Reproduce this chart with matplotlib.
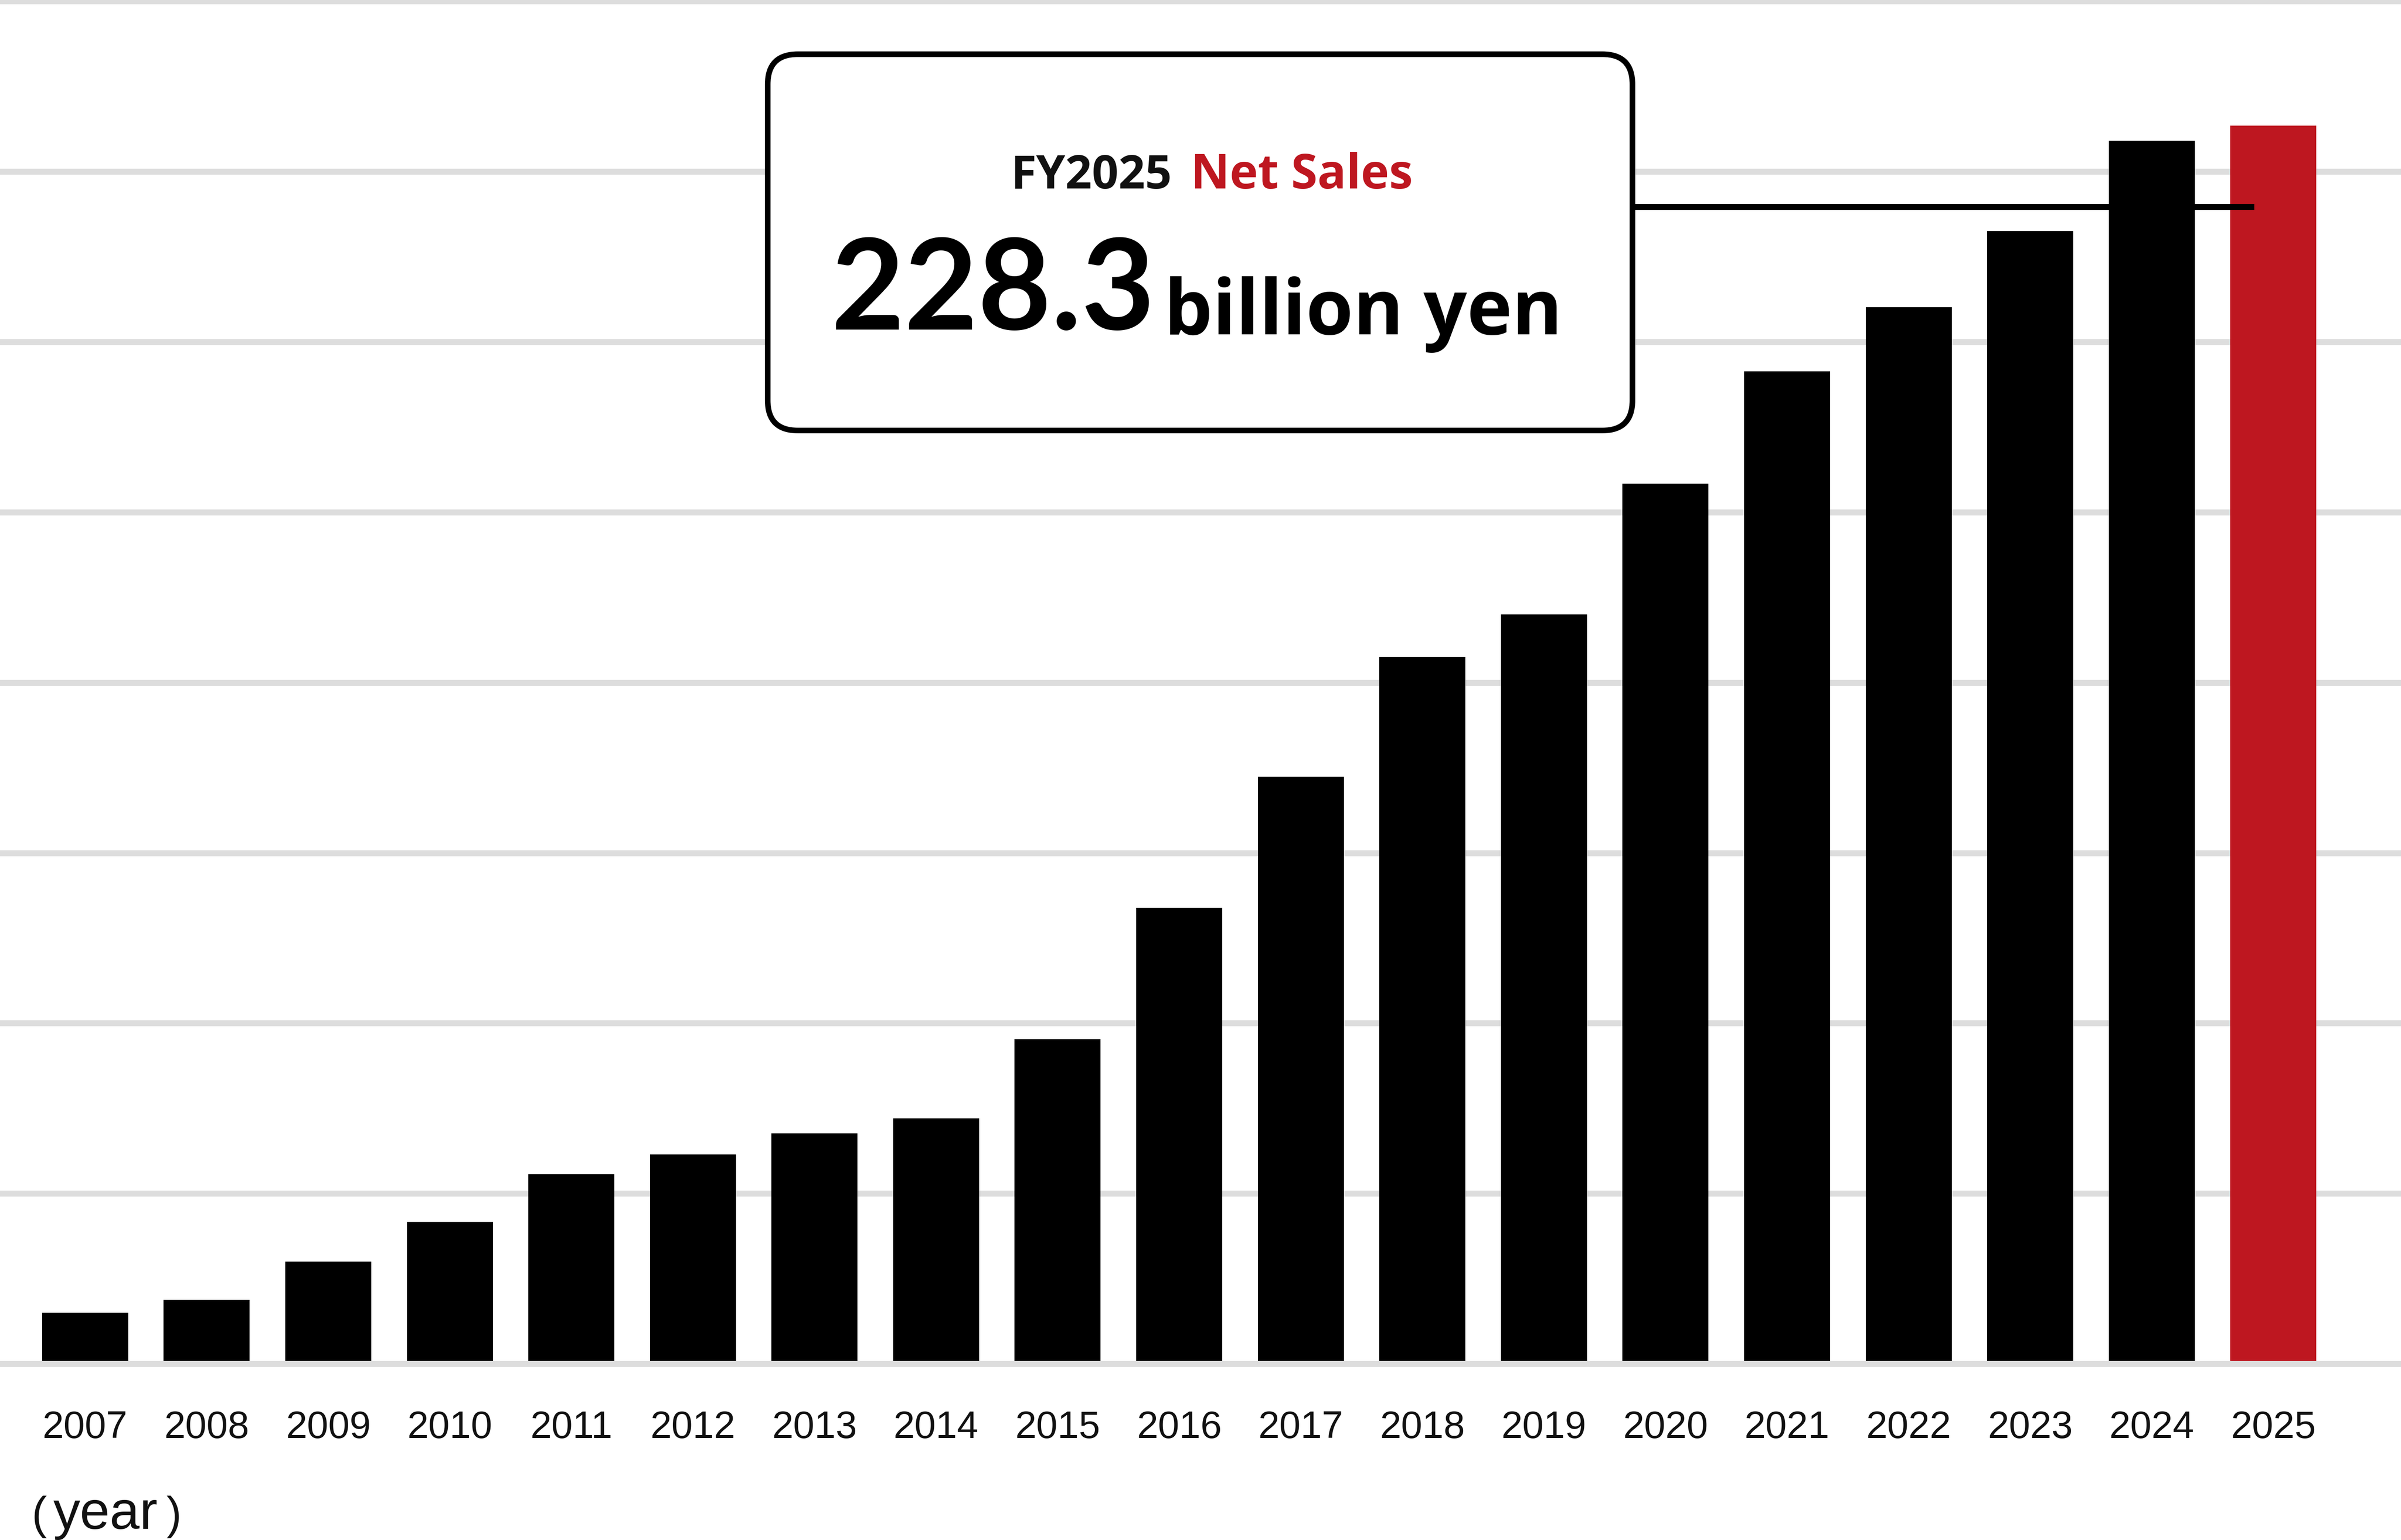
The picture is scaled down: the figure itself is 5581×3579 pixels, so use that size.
import numpy as np
import matplotlib
matplotlib.use("Agg")
from matplotlib import pyplot as plt
from matplotlib.patches import FancyBboxPatch

years = ["2007", "2008", "2009", "2010", "2011", "2012", "2013", "2014", "2015", "2016",
         "2017", "2018", "2019", "2020", "2021", "2022", "2023", "2024", "2025"]
net_sales = [9.4, 11.8, 18.9, 26.2, 35.0, 38.6, 42.5, 45.3, 59.9, 84.1,
             108.3, 130.3, 138.2, 162.3, 183.0, 194.8, 208.8, 225.5, 228.3]
highlight_label = "FY2025"
highlight_value = "228.3"

BLACK = "#000000"
RED = "#be1720"
GRID = "#dddddd"

W, H = 5581, 3580
fig = plt.figure(figsize=(W / 100, H / 100), dpi=100)
fig.patch.set_facecolor("white")

# main bar axes: baseline sits at 3171 px from top
base_px = 3171
ax = fig.add_axes([0, (H - base_px) / H, 1, base_px / H])
ax.set_ylim(0, 251.5)
ax.set_xlim(-0.70, len(years) - 1 + 1.05)

x = np.arange(len(years))
colors = [BLACK] * (len(years) - 1) + [RED]
ax.bar(x, net_sales, width=0.708, color=colors, zorder=2)

grid_top = 251.15
for i, g in enumerate(np.linspace(0, grid_top, 9)):
    ax.axhline(g, color=GRID, lw=10, zorder=3 if i == 0 else 0, clip_on=False)

ax.set_xticks(x)
ax.set_xticklabels(years, fontsize=64, family="Liberation Sans", color="#111111")
ax.tick_params(axis="x", length=0, pad=76)
ax.set_yticks([])
for s in ax.spines.values():
    s.set_visible(False)

# overlay in pixel units for the callout
ov = fig.add_axes([0, 0, 1, 1])
ov.set_xlim(0, W)
ov.set_ylim(H, 0)
ov.axis("off")
ov.patch.set_alpha(0)

box = FancyBboxPatch((1784.5, 127), 3794.5 - 1784.5, 1001.5 - 127,
                     boxstyle="round,pad=0,rounding_size=70",
                     fc="white", ec=BLACK, lw=9.4, zorder=5)
ov.add_patch(box)
ov.plot([3794.5, 5240], [482, 482], color=BLACK, lw=10, solid_capstyle="butt", zorder=4)

ov.text(2724, 438, highlight_label, ha="right", va="baseline", fontsize=78,
        family="Open Sans", weight="bold", color="#111111", zorder=6)
ov.text(2768, 438, "Net Sales", ha="left", va="baseline", fontsize=80,
        family="Open Sans", weight="bold", color=RED, zorder=6)
ov.text(2685, 766, highlight_value, ha="right", va="baseline", fontsize=212,
        family="Lato", weight="bold", color=BLACK, zorder=6)
ov.text(2706, 777, "billion yen", ha="left", va="baseline", fontsize=128,
        family="Open Sans", weight="bold", color=BLACK, zorder=6)

# (year) label: parens a touch smaller than the word, as in the source
ov.text(74, 3553, "(", ha="left", va="baseline", fontsize=76,
        family="Liberation Sans", color="#111111")
ov.text(124, 3553, "year", ha="left", va="baseline", fontsize=90,
        family="Liberation Sans", color="#111111")
ov.text(386, 3553, ")", ha="left", va="baseline", fontsize=76,
        family="Liberation Sans", color="#111111")

plt.savefig("out.png", dpi=100)
